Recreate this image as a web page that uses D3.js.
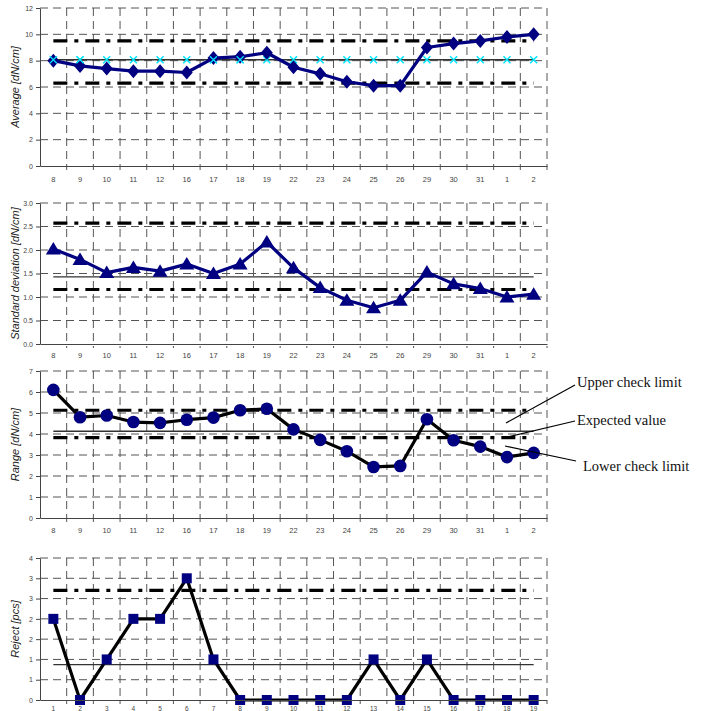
<!DOCTYPE html>
<html>
<head>
<meta charset="utf-8">
<script src="https://cdn.jsdelivr.net/npm/d3@7"></script>
<style>
	body { margin: 0; background: #fff; }
	svg { display: block; }
	.tick text { font-family: "Liberation Sans", Arial, sans-serif; fill: #444; }
</style>
</head>
<body>
<script>
// categories
let dayLabels = ["8", "9", "10", "11", "12", "16", "17", "18", "19", "22", "23", "24", "25", "26", "29", "30", "31", "1", "2"];
let sampleLabels = ["1", "2", "3", "4", "5", "6", "7", "8", "9", "10", "11", "12", "13", "14", "15", "16", "17", "18", "19"];

// series values
let averageValues = [8.0, 7.6, 7.4, 7.2, 7.2, 7.1, 8.2, 8.3, 8.6, 7.5, 7.0, 6.4, 6.1, 6.1, 9.0, 9.3, 9.5, 9.8, 10.0];
let stdValues = [2.02, 1.8, 1.52, 1.63, 1.55, 1.7, 1.5, 1.7, 2.17, 1.62, 1.2, 0.93, 0.77, 0.93, 1.53, 1.28, 1.18, 1.0, 1.06];
let rangeValues = [6.1, 4.8, 4.88, 4.57, 4.53, 4.68, 4.78, 5.13, 5.2, 4.22, 3.72, 3.18, 2.43, 2.48, 4.7, 3.7, 3.4, 2.9, 3.1];
let rejectValues = [2, 0, 1, 2, 2, 3, 1, 0, 0, 0, 0, 0, 1, 0, 1, 0, 0, 0, 0];

// check limits: upper, expected, lower
let averageLimits = [9.5, 8.07, 6.3];
let stdLimits = [2.57, 1.43, 1.16];
let rangeLimits = [5.13, 4.13, 3.83];
let rejectLimits = [2.7, 0.87, null];

// tick values and labels
let averageTicks = [0, 2, 4, 6, 8, 10, 12];
let averageTickLabels = ["0", "2", "4", "6", "8", "10", "12"];
let stdTicks = [0, 0.5, 1, 1.5, 2, 2.5, 3];
let stdTickLabels = ["0.0", "0.5", "1.0", "1.5", "2.0", "2.5", "3.0"];
let rangeTicks = [0, 1, 2, 3, 4, 5, 6, 7];
let rangeTickLabels = ["0", "1", "2", "3", "4", "5", "6", "7"];
let rejectTicks = [0, 0.5, 1, 1.5, 2, 2.5, 3, 3.5];
let rejectTickLabels = ["0", "1", "1", "2", "2", "3", "3", "4"];

let width = 702;
let height = 711;
let left = 40, right = 547;
let navy = "#000080";

let svg = d3.select("body").append("svg")
	.attr("width", width)
	.attr("height", height);

function markerPath(shape) {
	if (shape === "diamond") return "M0,-7L6,0L0,7L-6,0Z";
	if (shape === "triangle") return "M0,-7L7.5,5.5L-7.5,5.5Z";
	if (shape === "square") return "M-5,-5L5,-5L5,5L-5,5Z";
	return d3.symbol().type(d3.symbolCircle).size(125)();
}

function drawPanel(p) {
	let x = d3.scaleBand().domain(p.labels).range([left, right]);
	let y = d3.scaleLinear().domain([p.ticks[0], p.ticks[p.ticks.length - 1]]).range([p.bottom, p.top]);
	let cx = d => x(d) + x.bandwidth() / 2;
	let g = svg.append("g");

	// dashed grid
	g.selectAll(".hgrid").data(p.ticks.slice(1)).join("line")
		.attr("x1", left).attr("x2", right)
		.attr("y1", d => y(d)).attr("y2", d => y(d))
		.attr("stroke", "#555").attr("stroke-dasharray", "8,5");
	g.selectAll(".vgrid").data(p.labels).join("line")
		.attr("x1", d => x(d) + x.bandwidth()).attr("x2", d => x(d) + x.bandwidth())
		.attr("y1", p.top).attr("y2", p.bottom + 4)
		.attr("stroke", "#555").attr("stroke-dasharray", "8,5");

	// axes
	g.append("g")
		.attr("transform", `translate(${left},0)`)
		.call(d3.axisLeft(y).tickValues(p.ticks).tickSize(4).tickSizeOuter(0)
			.tickFormat((d, i) => p.tickLabels[i]))
		.call(a => a.selectAll("text").style("font-size", "7px"))
		.call(a => a.selectAll("line, path").attr("stroke", "#444"));

	let xAxis = svg.append("g")
		.attr("transform", `translate(0,${p.bottom})`)
		.call(d3.axisBottom(x).tickSize(0).tickPadding(p.labelPad))
		.call(a => a.selectAll("text").style("font-size", p.labelSize || "7.5px"))
		.call(a => a.select("path").attr("stroke", "#444"));

	// y title
	svg.append("text")
		.attr("transform", `translate(19,${(p.top + p.bottom) / 2}) rotate(-90)`)
		.attr("text-anchor", "middle")
		.style("font-family", "'Liberation Sans', Arial, sans-serif")
		.style("font-style", "italic")
		.style("font-size", "11px")
		.style("fill", "#222")
		.text(p.title);

	let x0 = cx(p.labels[0]), x1 = cx(p.labels[p.labels.length - 1]);

	// expected value
	g.append("line")
		.attr("x1", x0).attr("x2", x1)
		.attr("y1", y(p.limits[1])).attr("y2", y(p.limits[1]))
		.attr("stroke", "#333").attr("stroke-width", 1.3);

	// check limits
	[p.limits[0], p.limits[2]].filter(v => v != null).forEach(v => {
		g.append("line")
			.attr("x1", x0).attr("x2", x1)
			.attr("y1", y(v)).attr("y2", y(v))
			.attr("stroke", "#000").attr("stroke-width", 3.2)
			.attr("stroke-dasharray", "14,7,4,7");
	});

	// cyan crosses on expected value (average chart only)
	if (p.crosses) {
		g.selectAll(".cross").data(p.labels).join("path")
			.attr("transform", d => `translate(${cx(d)},${y(p.limits[1])})`)
			.attr("d", "M-3.5,-3.5L3.5,3.5M-3.5,3.5L3.5,-3.5")
			.attr("stroke", "#00e5ff").attr("stroke-width", 1.5);
	}

	let line = d3.line().x((d, i) => cx(p.labels[i])).y(d => y(d));
	g.append("path")
		.datum(p.values)
		.attr("d", line)
		.attr("fill", "none")
		.attr("stroke", p.lineColor)
		.attr("stroke-width", 3.2)
		.attr("stroke-linejoin", "round");

	g.selectAll(".marker").data(p.values).join("path")
		.attr("transform", (d, i) => `translate(${cx(p.labels[i])},${y(d)})`)
		.attr("d", markerPath(p.shape))
		.attr("fill", navy);

	// crosses stay visible on top of nearby markers
	if (p.crosses) {
		g.selectAll(".cross2").data(p.labels).join("path")
			.attr("transform", d => `translate(${cx(d)},${y(p.limits[1])})`)
			.attr("d", "M-3.5,-3.5L3.5,3.5M-3.5,3.5L3.5,-3.5")
			.attr("stroke", "#00e5ff").attr("stroke-width", 1.2)
			.attr("opacity", d => {
				let v = p.values[p.labels.indexOf(d)];
				return Math.abs(v - p.limits[1]) < 0.5 ? 1 : 0;
			});
	}
	xAxis.raise();
	return { x, y };
}

drawPanel({ labels: dayLabels, values: averageValues, limits: averageLimits, ticks: averageTicks, tickLabels: averageTickLabels,
	top: 8, bottom: 166, labelPad: 11, title: "Average [dN/cm]", lineColor: navy, shape: "diamond", crosses: true });
drawPanel({ labels: dayLabels, values: stdValues, limits: stdLimits, ticks: stdTicks, tickLabels: stdTickLabels,
	top: 203, bottom: 344, labelPad: 9, title: "Standard deviation [dN/cm]", lineColor: navy, shape: "triangle" });
drawPanel({ labels: dayLabels, values: rangeValues, limits: rangeLimits, ticks: rangeTicks, tickLabels: rangeTickLabels,
	top: 371, bottom: 518, labelPad: 10, title: "Range [dN/cm]", lineColor: "#000", shape: "circle" });
drawPanel({ labels: sampleLabels, values: rejectValues, limits: rejectLimits, ticks: rejectTicks, tickLabels: rejectTickLabels,
	top: 558, bottom: 700, labelPad: 6, labelSize: "6.5px", title: "Reject [pcs]", lineColor: "#000", shape: "square" });

// annotations on the range chart
let notes = [
	{ text: "Upper check limit", tx: 577, ty: 387, from: [575, 385], to: [506, 423] },
	{ text: "Expected value", tx: 577, ty: 425, from: [575, 421], to: [503, 438] },
	{ text: "Lower check limit", tx: 583, ty: 471, from: [576, 461], to: [505, 446] }
];
notes.forEach(n => {
	svg.append("line")
		.attr("x1", n.from[0]).attr("y1", n.from[1])
		.attr("x2", n.to[0]).attr("y2", n.to[1])
		.attr("stroke", "#000").attr("stroke-width", 1.2);
	svg.append("text")
		.attr("x", n.tx).attr("y", n.ty)
		.style("font-family", "'Liberation Serif', 'Times New Roman', serif")
		.style("font-size", "14.5px")
		.style("fill", "#111")
		.text(n.text);
});
</script>
</body>
</html>
